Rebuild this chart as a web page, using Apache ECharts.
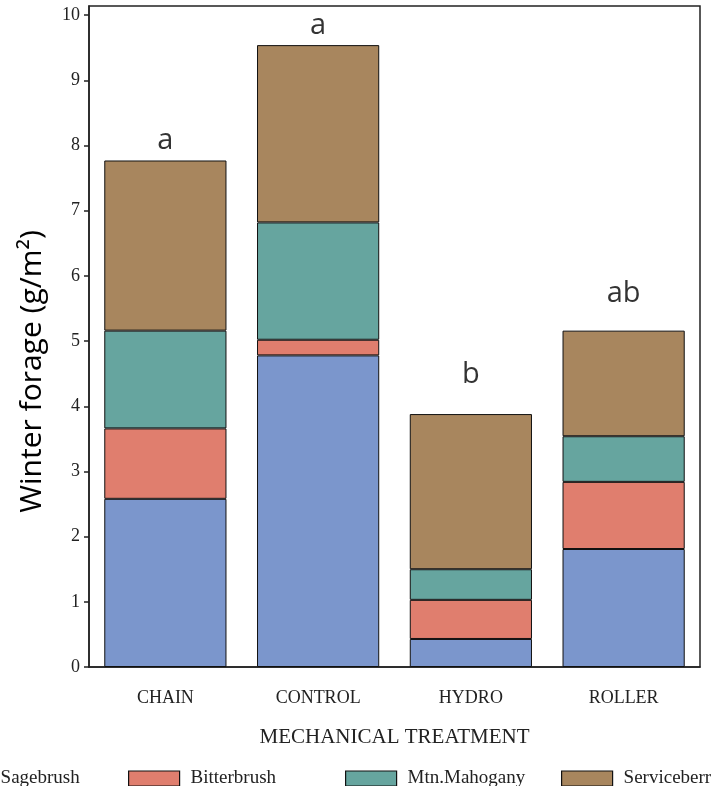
<!DOCTYPE html>
<html>
<head>
<meta charset="utf-8">
<script src="https://cdn.jsdelivr.net/npm/echarts@6/dist/echarts.min.js"></script>
<style>html,body{margin:0;padding:0;background:#fff;}#c{width:711px;height:786px;}</style>
</head>
<body>
<div id="c"></div>
<script>
const categories = ['CHAIN', 'CONTROL', 'HYDRO', 'ROLLER'];
const sagebrush = [2.58, 4.78, 0.43, 1.81];
const bitterbrush = [1.08, 0.24, 0.60, 1.03];
const mtnMahogany = [1.50, 1.80, 0.47, 0.70];
const serviceberry = [2.61, 2.72, 2.38, 1.62];
const letters = ['a', 'a', 'b', 'ab'];
const letterY = [8.08, 9.84, 4.48, 5.72];
const yTicks = [0, 1, 2, 3, 4, 5, 6, 7, 8, 9, 10];
const seriesNames = ['Sagebrush', 'Bitterbrush', 'Mtn.Mahogany', 'Serviceberry'];
const colors = ['#7B96CC', '#E07E6E', '#66A59F', '#A8865E'];
const seriesData = [sagebrush, bitterbrush, mtnMahogany, serviceberry];

const serif = '"Liberation Serif", "Times New Roman", serif';
const sans = '"Open Sans", "Noto Sans", sans-serif';
const legendLefts = [-62, 128, 345, 561];

const chart = echarts.init(document.getElementById('c'), null, {renderer: 'canvas'});
const series = seriesNames.map((n, i) => ({
  name: n, type: 'bar', stack: 'total', barCategoryGap: '20%',
  data: seriesData[i],
  itemStyle: {color: colors[i], borderColor: '#111', borderWidth: 1},
  emphasis: {disabled: true}
}));
series.push({
  type: 'scatter', name: 'letters', symbolSize: 0,
  data: categories.map((c, i) => [c, letterY[i], letters[i]]),
  label: {show: true, position: 'inside', formatter: p => p.data[2],
    fontFamily: sans, fontSize: 29, color: '#000', verticalAlign: 'middle'},
  silent: true, z: 10
});

chart.setOption({
  animation: false,
  grid: {left: 89, right: 11, top: 6, bottom: 119, show: true, borderColor: '#222', borderWidth: 1.5, backgroundColor: 'transparent'},
  legend: seriesNames.map((n, i) => ({
    data: [n], left: legendLefts[i], top: 769, padding: 0, icon: 'rect',
    itemWidth: 51, itemHeight: 15,
    itemStyle: {borderColor: '#111', borderWidth: 1.2},
    textStyle: {fontFamily: serif, fontSize: 19, color: '#222', padding: [0, 0, 0, 6]},
    selectedMode: false
  })),
  xAxis: {
    type: 'category', data: categories,
    axisLine: {lineStyle: {color: '#222', width: 1.5}},
    axisTick: {show: false},
    axisLabel: {fontFamily: serif, fontSize: 18, color: '#222', margin: 22},
    name: 'MECHANICAL TREATMENT', nameLocation: 'middle', nameGap: 60,
    nameTextStyle: {fontFamily: serif, fontSize: 21, color: '#222'}
  },
  yAxis: {
    type: 'value', min: 0, max: 10.14, interval: 1,
    axisLine: {show: true, lineStyle: {color: '#222', width: 1.5}},
    axisTick: {show: true, length: 5, lineStyle: {color: '#222', width: 1.5}, customValues: yTicks},
    axisLabel: {fontFamily: serif, fontSize: 18, color: '#222', margin: 9, customValues: yTicks},
    splitLine: {show: false},
    name: 'Winter forage (g/m²)', nameLocation: 'middle', nameGap: 42,
    nameTextStyle: {fontFamily: sans, fontSize: 30, color: '#000', padding: [0, 70, 0, 0]}
  },
  series: series
});
</script>
</body>
</html>
